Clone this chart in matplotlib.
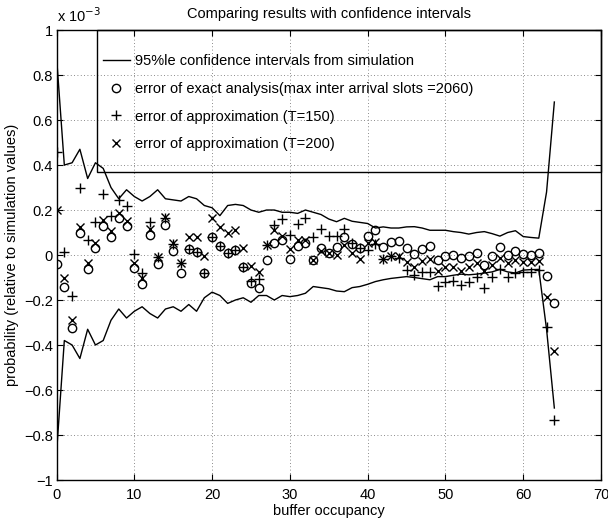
import matplotlib.pyplot as plt
from matplotlib.patches import Rectangle

plt.rcParams['font.family'] = ['Liberation Sans', 'DejaVu Sans']

# buffer occupancy 0..64, all error values in units of 1e-3
buffer = list(range(65))

ci_upper = [0.88, 0.40, 0.41, 0.47, 0.34, 0.41, 0.385, 0.30, 0.25, 0.29,
            0.26, 0.24, 0.26, 0.29, 0.25, 0.245, 0.24, 0.26, 0.25, 0.22,
            0.21, 0.175, 0.22, 0.225, 0.22, 0.20, 0.19, 0.20, 0.20, 0.19,
            0.19, 0.185, 0.20, 0.19, 0.18, 0.16, 0.148, 0.163, 0.15, 0.145,
            0.14, 0.12, 0.125, 0.12, 0.12, 0.125, 0.126, 0.12, 0.11, 0.11,
            0.11, 0.104, 0.10, 0.093, 0.10, 0.104, 0.095, 0.084, 0.10, 0.108,
            0.082, 0.078, 0.075, 0.28, 0.68]

ci_lower = [-0.88, -0.38, -0.40, -0.46, -0.33, -0.40, -0.38, -0.29, -0.24, -0.28,
            -0.25, -0.23, -0.26, -0.28, -0.24, -0.23, -0.25, -0.22, -0.25, -0.19,
            -0.165, -0.18, -0.215, -0.20, -0.19, -0.21, -0.18, -0.18, -0.20, -0.18,
            -0.185, -0.18, -0.17, -0.14, -0.145, -0.15, -0.16, -0.163, -0.145, -0.14,
            -0.13, -0.118, -0.11, -0.104, -0.10, -0.096, -0.10, -0.105, -0.11, -0.096,
            -0.096, -0.09, -0.085, -0.088, -0.085, -0.08, -0.075, -0.064, -0.075, -0.08,
            -0.067, -0.065, -0.064, -0.33, -0.68]

exact_err = [-0.04, -0.14, -0.326, 0.096, -0.06, 0.03, 0.129, 0.081, 0.163, 0.129,
             -0.059, -0.13, 0.089, -0.04, 0.135, 0.018, -0.082, 0.025, 0.015, -0.078,
             0.082, 0.04, 0.007, 0.022, -0.052, -0.126, -0.145, -0.022, 0.052, 0.067,
             -0.017, 0.04, 0.054, -0.02, 0.03, 0.007, 0.035, 0.08, 0.05, 0.03,
             0.084, 0.111, 0.037, 0.059, 0.064, 0.03, 0.004, 0.025, 0.04, -0.022,
             -0.004, 0.0, -0.015, -0.004, 0.01, -0.044, -0.004, 0.037, 0.0, 0.019,
             0.004, 0.0, 0.007, -0.093, -0.212]

approx150_err = [0.46, 0.015, -0.18, 0.30, 0.067, 0.146, 0.27, 0.175, 0.244, 0.218,
                 0.004, -0.08, 0.148, -0.01, 0.165, 0.05, -0.035, 0.025, 0.015, -0.078,
                 0.082, 0.04, 0.007, 0.022, -0.052, -0.115, -0.108, 0.044, 0.135, 0.16,
                 0.087, 0.14, 0.163, 0.079, 0.114, 0.084, 0.084, 0.114, 0.055, 0.03,
                 0.022, 0.05, -0.019, -0.004, -0.015, -0.067, -0.089, -0.074, -0.074, -0.138,
                 -0.119, -0.114, -0.133, -0.119, -0.096, -0.148, -0.096, -0.064, -0.096, -0.079,
                 -0.074, -0.074, -0.067, -0.319, -0.733]

approx200_err = [0.2, -0.104, -0.29, 0.126, -0.037, 0.055, 0.155, 0.105, 0.185, 0.15,
                 -0.035, -0.104, 0.115, -0.01, 0.167, 0.055, -0.035, 0.081, 0.081, -0.004,
                 0.163, 0.126, 0.096, 0.111, 0.03, -0.047, -0.074, 0.044, 0.111, 0.085,
                 0.025, 0.067, 0.065, -0.02, 0.02, 0.007, 0.0, 0.044, 0.007, -0.019,
                 0.052, 0.059, -0.019, -0.004, -0.004, -0.03, -0.052, -0.025, -0.019, -0.07,
                 -0.052, -0.052, -0.07, -0.052, -0.037, -0.07, -0.044, -0.015, -0.037, -0.022,
                 -0.03, -0.03, -0.025, -0.185, -0.427]

xticks = [0, 10, 20, 30, 40, 50, 60, 70]
yticks = [-1, -0.8, -0.6, -0.4, -0.2, 0, 0.2, 0.4, 0.6, 0.8, 1]
ytick_labels = ['\u22121', '\u22120.8', '\u22120.6', '\u22120.4', '\u22120.2', '0',
                '0.2', '0.4', '0.6', '0.8', '1']

fs = 10.5
fig = plt.figure(figsize=(6.08, 5.23), dpi=100)
ax = fig.add_axes([0.093, 0.0822, 0.8955, 0.8604])

ax.plot(buffer, ci_upper, 'k-', lw=1.0, label='95%le confidence intervals from simulation')
ax.plot(buffer, ci_lower, 'k-', lw=1.0)
ax.plot(buffer, exact_err, 'ko', ls='none', mfc='none', ms=6, mew=1.0,
        label='error of exact analysis(max inter arrival slots =2060)')
ax.plot(buffer, approx150_err, 'k+', ls='none', ms=7, mew=1.0,
        label='error of approximation (T=150)')
ax.plot(buffer, approx200_err, 'kx', ls='none', ms=6, mew=1.0,
        label='error of approximation (T=200)')

ax.set_xlim(0, 70)
ax.set_ylim(-1, 1)
ax.set_xticks(xticks)
ax.set_yticks(yticks)
ax.set_yticklabels(ytick_labels)
ax.tick_params(direction='in', length=4, width=0.8, top=True, right=True,
               labelsize=fs)
ax.tick_params(axis='x', pad=5.5)
ax.tick_params(axis='y', pad=2.5)
ax.grid(True, color='0.4', linestyle=(0, (1, 3)), linewidth=0.6)
for s in ax.spines.values():
    s.set_linewidth(1.0)

ax.set_title('Comparing results with confidence intervals', fontsize=fs, pad=9)
ax.set_xlabel('buffer occupancy', fontsize=fs, labelpad=2)
ax.set_ylabel('probability (relative to simulation values)', fontsize=fs, labelpad=4)
ax.text(0.0, 1.012, 'x 10$^{-3}$', transform=ax.transAxes, fontsize=fs,
        ha='left', va='bottom')

# legend box
ax.add_patch(Rectangle((0.0744, 0.684), 0.9256, 0.316, transform=ax.transAxes,
                       fill=False, ec='k', lw=1.0, clip_on=False, zorder=3))
ax.legend(loc='upper left', bbox_to_anchor=(0.0744, 0.960), frameon=False,
          fontsize=fs, borderpad=0.4, labelspacing=0.95, handlelength=1.85,
          handletextpad=0.35, borderaxespad=0)

plt.savefig('out.png', dpi=100)
